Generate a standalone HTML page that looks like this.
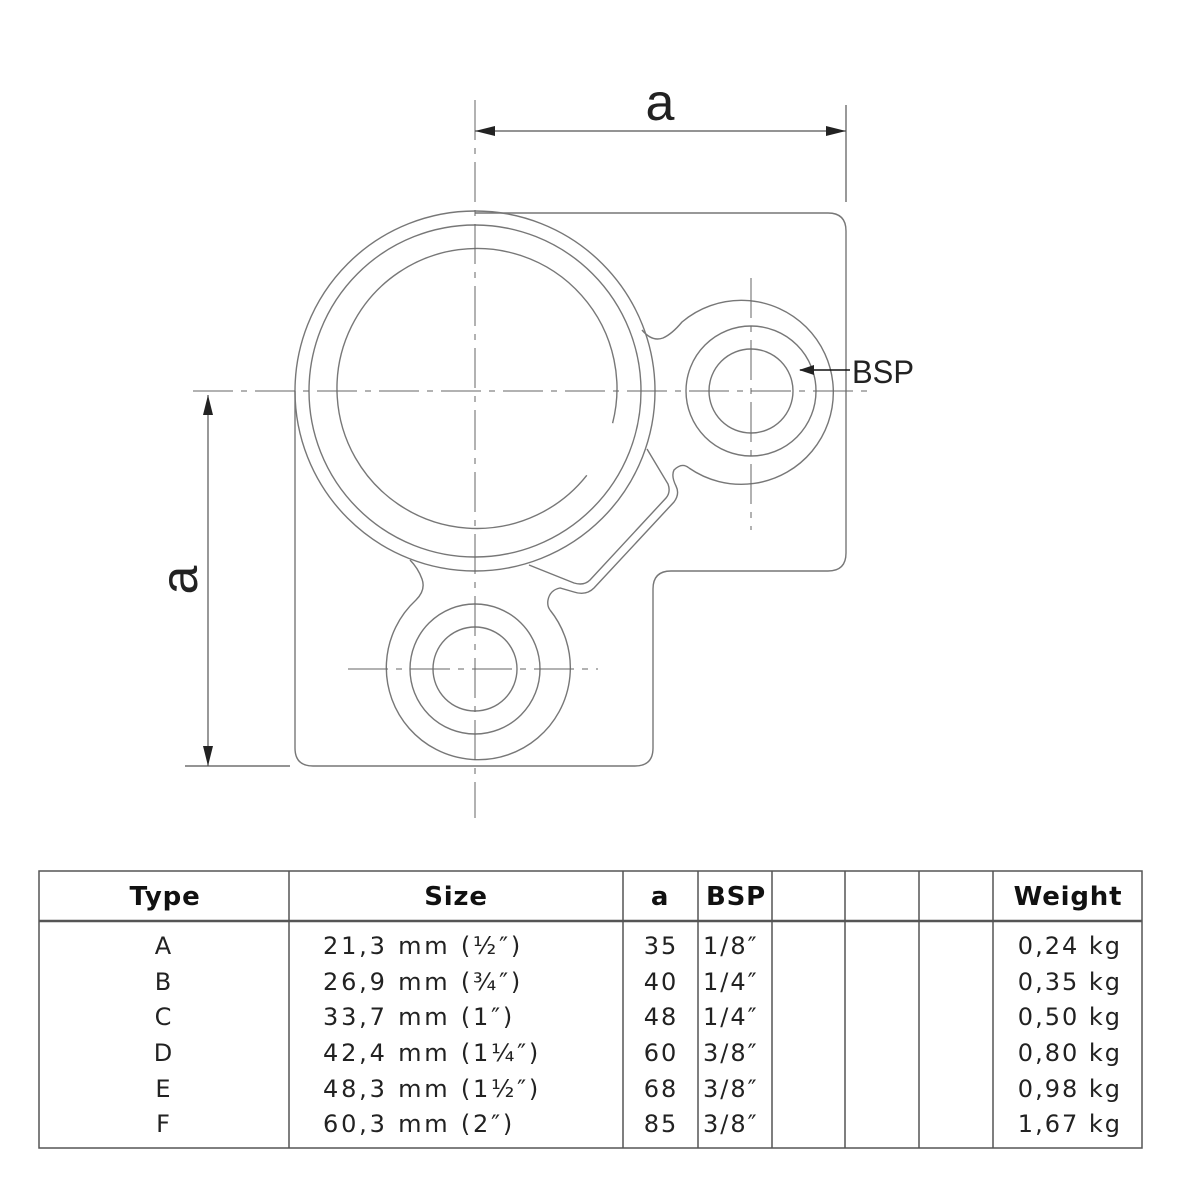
<!DOCTYPE html>
<html><head><meta charset="utf-8"><style>
html,body{margin:0;padding:0;background:#fff}
svg{display:block}
.t{font-family:"DejaVu Sans","Liberation Sans",sans-serif;font-size:24px;fill:#222;letter-spacing:2px}
.s{letter-spacing:2.8px}
.h{font-family:"DejaVu Sans","Liberation Sans",sans-serif;font-size:26px;font-weight:bold;fill:#111;letter-spacing:0.8px}
</style></head><body>
<svg width="1182" height="1182" viewBox="0 0 1182 1182" xmlns="http://www.w3.org/2000/svg">
<g fill="none" stroke="#777" stroke-width="1.4">
  <path d="M475,213 H828 Q846,213 846,231 V553 Q846,571 828,571 H671 Q653,571 653,589 V748 Q653,766 635,766 H313 Q295,766 295,748 V391"/>
  <circle cx="475" cy="391" r="180"/>
  <circle cx="475" cy="391" r="166"/>
  <path d="M612.6,423.2 A140,140 0 1 0 586.8,475.3"/>
  <path d="M642,330 Q652,342 663,338 Q672,334 682,322 A92,92 0 1 1 689,468"/>
  <circle cx="751" cy="391" r="65"/>
  <circle cx="751" cy="391" r="42"/>
  <path d="M689,468 Q682,462 674,470 Q671,476 676,486 Q680,494 674,502 L594,588 Q586,596 574,592 L560,588 Q550,590 548,600 Q547,606 550,610"/>
  <path d="M647,449 L668,484 Q671,492 666,498 L590,580 Q584,586 574,583 L529,565"/>
  <path d="M550,610 A92,92 0 1 1 416,600 Q426,590 422,579 Q418,568 410,560"/>
  <circle cx="475" cy="669" r="65"/>
  <circle cx="475" cy="669" r="42"/>
</g>
<g fill="none" stroke="#666" stroke-width="1" stroke-dasharray="40,8,6,8">
  <line x1="475" y1="100" x2="475" y2="818"/>
  <line x1="193" y1="391" x2="870" y2="391"/>
  <line x1="751" y1="278" x2="751" y2="530"/>
  <line x1="348" y1="669" x2="598" y2="669"/>
</g>
<g stroke="#555" stroke-width="1.2" fill="none">
  <line x1="846" y1="105" x2="846" y2="202"/>
  <line x1="475" y1="131" x2="846" y2="131"/>
  <line x1="185" y1="766" x2="290" y2="766"/>
  <line x1="208" y1="395" x2="208" y2="766"/>
  <line x1="800" y1="370" x2="850" y2="370" stroke="#111" stroke-width="1.6"/>
</g>
<g fill="#222">
  <polygon points="475,131 495,126 495,136"/>
  <polygon points="846,131 826,126 826,136"/>
  <polygon points="208,395 203,415 213,415"/>
  <polygon points="208,766 203,746 213,746"/>
  <polygon points="799,370 814,365 814,375"/>
</g>
<text x="660" y="120" text-anchor="middle" font-family="Liberation Sans,sans-serif" font-size="52" fill="#222">a</text>
<text transform="translate(197,580) rotate(-90)" text-anchor="middle" font-family="Liberation Sans,sans-serif" font-size="52" fill="#222">a</text>
<text x="852" y="383" font-family="Liberation Sans,sans-serif" font-size="32" fill="#222" textLength="62" lengthAdjust="spacingAndGlyphs">BSP</text>
<g stroke="#555" stroke-width="1.5" fill="none">
  <rect x="39" y="871" width="1103" height="277"/>
  <line x1="39" y1="921" x2="1142" y2="921" stroke-width="2.5"/>
  <line x1="289" y1="871" x2="289" y2="1148"/>
  <line x1="623" y1="871" x2="623" y2="1148"/>
  <line x1="698" y1="871" x2="698" y2="1148"/>
  <line x1="772" y1="871" x2="772" y2="1148"/>
  <line x1="845" y1="871" x2="845" y2="1148"/>
  <line x1="919" y1="871" x2="919" y2="1148"/>
  <line x1="993" y1="871" x2="993" y2="1148"/>
</g>
<text class="h" x="165" y="905" text-anchor="middle">Type</text>
<text class="h" x="456" y="905" text-anchor="middle">Size</text>
<text class="h" x="660" y="905" text-anchor="middle">a</text>
<text class="h" x="736" y="905" text-anchor="middle">BSP</text>
<text class="h" x="1068" y="905" text-anchor="middle">Weight</text>
<g class="t">
<text x="164" y="954" text-anchor="middle">A</text><text class="s" x="323" y="954">21,3 mm (½″)</text><text x="661" y="954" text-anchor="middle">35</text><text x="703" y="954">1/8″</text><text x="1122" y="954" text-anchor="end">0,24 kg</text>
<text x="164" y="990" text-anchor="middle">B</text><text class="s" x="323" y="990">26,9 mm (¾″)</text><text x="661" y="990" text-anchor="middle">40</text><text x="703" y="990">1/4″</text><text x="1122" y="990" text-anchor="end">0,35 kg</text>
<text x="164" y="1025" text-anchor="middle">C</text><text class="s" x="323" y="1025">33,7 mm (1″)</text><text x="661" y="1025" text-anchor="middle">48</text><text x="703" y="1025">1/4″</text><text x="1122" y="1025" text-anchor="end">0,50 kg</text>
<text x="164" y="1061" text-anchor="middle">D</text><text class="s" x="323" y="1061">42,4 mm (1¼″)</text><text x="661" y="1061" text-anchor="middle">60</text><text x="703" y="1061">3/8″</text><text x="1122" y="1061" text-anchor="end">0,80 kg</text>
<text x="164" y="1097" text-anchor="middle">E</text><text class="s" x="323" y="1097">48,3 mm (1½″)</text><text x="661" y="1097" text-anchor="middle">68</text><text x="703" y="1097">3/8″</text><text x="1122" y="1097" text-anchor="end">0,98 kg</text>
<text x="164" y="1132" text-anchor="middle">F</text><text class="s" x="323" y="1132">60,3 mm (2″)</text><text x="661" y="1132" text-anchor="middle">85</text><text x="703" y="1132">3/8″</text><text x="1122" y="1132" text-anchor="end">1,67 kg</text>
</g>
</svg>
</body></html>
